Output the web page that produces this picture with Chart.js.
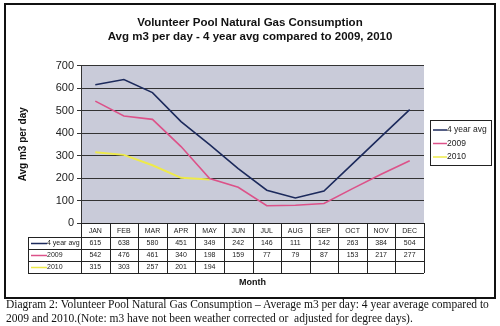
<!DOCTYPE html>
<html>
<head>
<meta charset="utf-8">
<script src="https://cdn.jsdelivr.net/npm/chart.js@4"></script>
<style>
  body { margin: 0; background: #fff; }
  #wrap { position: relative; width: 500px; height: 326px; overflow: hidden; }
  #chartBox { position: absolute; left: 0; top: 0; width: 500px; height: 298px; }
  #frame { position: absolute; left: 4px; top: 3px; width: 488px; height: 292px;
           border: 2px solid #111; pointer-events: none; }
  #caption { position: absolute; left: 6px; top: 297px; width: 494px;
             font-family: "Liberation Serif", "Times New Roman", serif;
             font-size: 11.5px; line-height: 14px; color: #111; white-space: nowrap; }
</style>
</head>
<body>
<div id="wrap">
  <div id="chartBox"><canvas id="grafica"></canvas></div>
  <div id="frame"></div>
  <div id="caption">Diagram 2: Volunteer Pool Natural Gas Consumption – Average m3 per day: 4 year average compared to<br>2009 and 2010.(Note: m3 have not been weather corrected or&nbsp; adjusted for degree days).</div>
</div>
<script>
// ==============================
// DATOS
// ==============================
const meses = ["JAN", "FEB", "MAR", "APR", "MAY", "JUN", "JUL", "AUG", "SEP", "OCT", "NOV", "DEC"];
const promedio4 = [615, 638, 580, 451, 349, 242, 146, 111, 142, 263, 384, 504];
const datos2009 = [542, 476, 461, 340, 198, 159, 77, 79, 87, 153, 217, 277];
const datos2010 = [315, 303, 257, 201, 194];
const ticksY = [0, 100, 200, 300, 400, 500, 600, 700];

const fuente = "'Liberation Sans', Arial, sans-serif";

// ==============================
// FONDO DEL AREA DEL GRAFICO
// ==============================
const fondoArea = {
    id: "fondoArea",
    beforeDraw(chart) {
        const a = chart.chartArea;
        const ctx = chart.ctx;
        ctx.save();
        ctx.fillStyle = "#c9cbd9";
        ctx.fillRect(a.left, a.top, a.right - a.left, a.bottom - a.top);
        ctx.restore();
    }
};

// ==============================
// TABLA DE DATOS + LEYENDA
// ==============================
const tablaDatos = {
    id: "tablaDatos",
    afterDraw(chart) {
        const ctx = chart.ctx;
        const x = chart.scales.x;
        const a = chart.chartArea;
        const ancho = (x.right - x.left) / meses.length;
        const izq = 28;
        const filas = [a.bottom, a.bottom + 14, a.bottom + 26, a.bottom + 38, a.bottom + 50];

        ctx.save();
        ctx.strokeStyle = "#222";
        ctx.lineWidth = 1;
        ctx.fillStyle = "#fff";
        ctx.fillRect(x.left, filas[0] + 1, x.right - x.left, filas[1] - filas[0]);
        ctx.fillRect(izq, filas[1], x.right - izq, filas[4] - filas[1]);

        // lineas horizontales
        ctx.beginPath();
        ctx.moveTo(x.left, filas[0] + 0.5);
        ctx.lineTo(x.right, filas[0] + 0.5);
        for (let r = 1; r < filas.length; r++) {
            ctx.moveTo(izq, Math.round(filas[r]) + 0.5);
            ctx.lineTo(x.right, Math.round(filas[r]) + 0.5);
        }
        // lineas verticales
        ctx.moveTo(izq + 0.5, filas[1]);
        ctx.lineTo(izq + 0.5, filas[4]);
        for (let i = 0; i <= meses.length; i++) {
            const px = Math.round(x.left + i * ancho) + 0.5;
            ctx.moveTo(px, filas[0]);
            ctx.lineTo(px, filas[4]);
        }
        ctx.stroke();

        // textos
        ctx.fillStyle = "#222";
        ctx.font = "7px " + fuente;
        ctx.textAlign = "center";
        ctx.textBaseline = "middle";
        meses.forEach((m, i) => {
            ctx.fillText(m, x.getPixelForValue(i), (filas[0] + filas[1]) / 2 + 1);
        });
        chart.data.datasets.forEach((ds, r) => {
            const yc = (filas[r + 1] + filas[r + 2]) / 2 + 0.5;
            ds.data.forEach((v, i) => {
                ctx.fillText(String(v), x.getPixelForValue(i), yc);
            });
            ctx.strokeStyle = ds.borderColor;
            ctx.lineWidth = 1.5;
            ctx.beginPath();
            ctx.moveTo(izq + 3, yc);
            ctx.lineTo(izq + 19, yc);
            ctx.stroke();
            ctx.textAlign = "left";
            ctx.fillText(ds.label, izq + 19, yc);
            ctx.textAlign = "center";
        });

        // leyenda
        const lx = 430, ly = 120, lw = 61, lh = 45;
        ctx.fillStyle = "#fff";
        ctx.fillRect(lx, ly, lw, lh);
        ctx.strokeStyle = "#222";
        ctx.lineWidth = 1;
        ctx.strokeRect(lx + 0.5, ly + 0.5, lw, lh);
        ctx.font = "8.5px " + fuente;
        ctx.textAlign = "left";
        chart.data.datasets.forEach((ds, r) => {
            const yc = ly + 10 + r * 13.5;
            ctx.strokeStyle = ds.borderColor;
            ctx.lineWidth = 1.5;
            ctx.beginPath();
            ctx.moveTo(lx + 3, yc);
            ctx.lineTo(lx + 17, yc);
            ctx.stroke();
            ctx.fillStyle = "#222";
            ctx.fillText(ds.label, lx + 17, yc);
        });
        ctx.restore();
    }
};

// ==============================
// GRAFICA
// ==============================
new Chart(document.getElementById("grafica"), {
    type: "line",
    data: {
        labels: meses,
        datasets: [
            { label: "4 year avg", data: promedio4, borderColor: "#1c2a5c", borderWidth: 1.6 },
            { label: "2009", data: datos2009, borderColor: "#dc5289", borderWidth: 1.6 },
            { label: "2010", data: datos2010, borderColor: "#eeea4a", borderWidth: 2 }
        ]
    },
    options: {
        responsive: true,
        maintainAspectRatio: false,
        animation: false,
        elements: {
            point: { radius: 0 },
            line: { tension: 0 }
        },
        layout: {
            padding: 0
        },
        plugins: {
            title: {
                display: true,
                text: ["Volunteer Pool Natural Gas Consumption", "Avg m3 per day - 4 year avg compared to 2009, 2010"],
                color: "#111",
                font: { family: fuente, size: 11.5, weight: "bold", lineHeight: 1.2 },
                padding: { top: 16, bottom: 22 }
            },
            legend: { display: false },
            tooltip: { enabled: false }
        },
        scales: {
            x: {
                offset: true,
                grid: { display: false },
                border: { display: false },
                ticks: { display: false },
                title: {
                    display: true,
                    text: "Month",
                    color: "#111",
                    font: { family: fuente, size: 9, weight: "bold", lineHeight: 1.2 },
                    padding: { top: 0, bottom: 10 }
                },
                afterFit(scale) { scale.height = 75; }
            },
            y: {
                min: 0,
                max: 700,
                afterBuildTicks(scale) { scale.ticks = ticksY.map(v => ({ value: v })); },
                grid: { color: "#333", lineWidth: 1, tickLength: 4, drawTicks: true },
                border: { display: true, color: "#333" },
                ticks: { color: "#222", font: { family: fuente, size: 11 }, padding: 3 },
                title: {
                    display: true,
                    text: "Avg m3 per day",
                    color: "#111",
                    font: { family: fuente, size: 10, weight: "bold", lineHeight: 1.2 },
                    padding: { top: 17, bottom: 0 }
                },
                afterFit(scale) { scale.width = 81; }
            },
            // espacio a la derecha para la leyenda
            espacio: {
                type: "linear",
                position: "right",
                grid: { display: false },
                border: { display: false },
                ticks: { display: false },
                afterFit(scale) { scale.width = 76; }
            }
        }
    },
    plugins: [fondoArea, tablaDatos]
});
</script>
</body>
</html>
